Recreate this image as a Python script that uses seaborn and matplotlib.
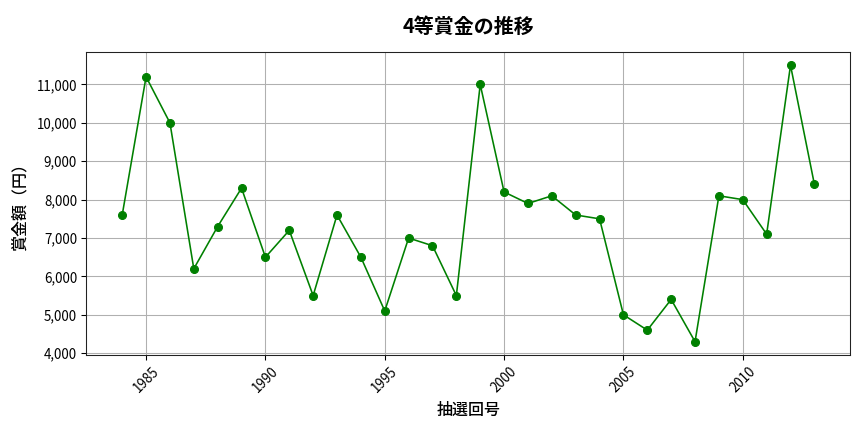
import pandas as pd
import matplotlib
matplotlib.use("Agg")
import matplotlib.pyplot as plt
import matplotlib.ticker as mticker
import seaborn as sns

# データ
years = [1984, 1985, 1986, 1987, 1988, 1989, 1990, 1991, 1992, 1993,
         1994, 1995, 1996, 1997, 1998, 1999, 2000, 2001, 2002, 2003,
         2004, 2005, 2006, 2007, 2008, 2009, 2010, 2011, 2012, 2013]
prize = [7600, 11200, 10000, 6200, 7300, 8300, 6500, 7200, 5500, 7600,
         6500, 5100, 7000, 6800, 5500, 11000, 8200, 7900, 8100, 7600,
         7500, 5000, 4600, 5400, 4300, 8100, 8000, 7100, 11500, 8400]

df = pd.DataFrame({"year": years, "prize": prize})

sns.set_style("ticks", {"text.color": "black", "axes.labelcolor": "black",
                        "xtick.color": "black", "ytick.color": "black",
                        "axes.edgecolor": "#222222"})
plt.rcParams["font.family"] = ["Noto Sans CJK JP", "DejaVu Sans"]

fig, ax = plt.subplots(figsize=(9, 4.5), dpi=96)
sns.lineplot(data=df, x="year", y="prize", marker="o", color="green",
             markersize=6, markeredgecolor="green", linewidth=1.2, ax=ax)

ax.grid(True, color="#b0b0b0", linewidth=0.8)
ax.set_axisbelow(True)
ax.yaxis.set_major_formatter(mticker.FuncFormatter(lambda v, p: f"{int(v):,}"))
ax.set_yticks(range(4000, 11001, 1000))
ax.set_ylim(3950, 11850)
ax.set_xlim(1982.5, 2014.5)
plt.setp(ax.get_xticklabels(), rotation=45)

ax.set_title("4等賞金の推移", fontsize=15, fontweight="semibold", pad=14)
ax.set_xlabel("抽選回号", fontsize=12, fontweight="medium", labelpad=5)
ax.set_ylabel("賞金額（円）", fontsize=12, fontweight="medium", labelpad=6)

fig.subplots_adjust(left=0.1, right=0.984, top=0.88, bottom=0.178)
fig.savefig("out.png", dpi=96)
